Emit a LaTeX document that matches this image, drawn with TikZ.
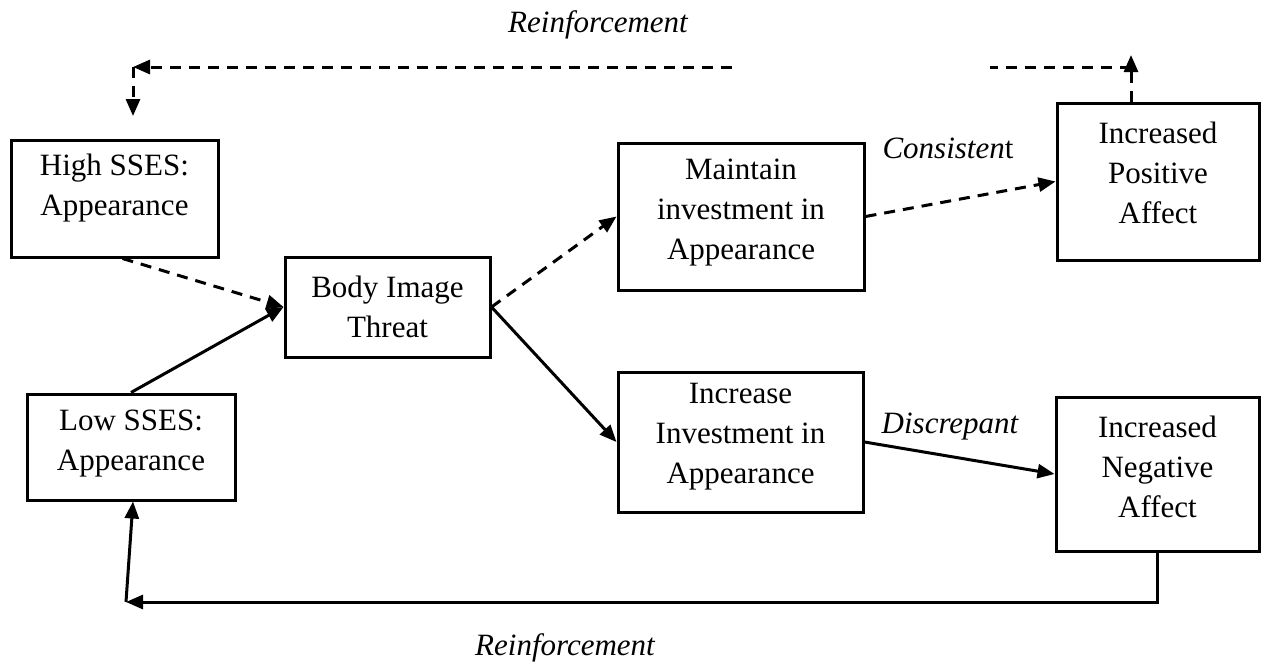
\documentclass[tikz,border=0pt]{standalone}
\usepackage{fontspec}
\setmainfont{Liberation Serif}
\usetikzlibrary{arrows.meta,calc}
\begin{document}
\begin{tikzpicture}[x=1pt,y=-1pt,
  boxnode/.style={draw,line width=3pt,inner sep=0pt},
  boxtext/.style={align=center,font=\fontsize{31}{40}\selectfont},
  lbl/.style={font=\fontsize{31}{38}\selectfont\itshape},
  conn/.style={line width=3pt,-{Triangle[length=17pt,width=14pt]}},
  plain/.style={line width=3pt},
  dsh/.style={dash pattern=on 11pt off 8pt}]
\useasboundingbox (0,0) rectangle (1261,665);
% boxes
\node[boxnode,minimum width=207pt,minimum height=117pt] (High) at (114.5,198.5) {};
\node[boxtext] (HighT) at (114.5,188) {High SSES:\\Appearance};
\node[boxnode,minimum width=208pt,minimum height=106pt] (Low) at (131,447) {};
\node[boxtext] (LowT) at (131,444) {Low SSES:\\Appearance};
\node[boxnode,minimum width=205pt,minimum height=100pt] (Body) at (387.5,307) {};
\node[boxtext] (BodyT) at (387.5,307) {Body Image\\Threat};
\node[boxnode,minimum width=246pt,minimum height=147pt] (Maint) at (741,216.5) {};
\node[boxtext] (MaintT) at (741,213) {Maintain\\investment in\\Appearance};
\node[boxnode,minimum width=245pt,minimum height=140pt] (Incr) at (740.5,442) {};
\node[boxtext] (IncrT) at (740.5,437) {Increase\\Investment in\\Appearance};
\node[boxnode,minimum width=202pt,minimum height=157pt] (Pos) at (1158,181.5) {};
\node[boxtext] (PosT) at (1158,173) {Increased\\Positive\\Affect};
\node[boxnode,minimum width=203pt,minimum height=154pt] (Neg) at (1157.5,474) {};
\node[boxtext] (NegT) at (1157.5,467) {Increased\\Negative\\Affect};
% labels
\node[lbl] (RTop) at (598,25) {Reinforcement};
\node[lbl] (RBot) at (565,648) {Reinforcement};
\node[lbl] (Cons) at (948,148) {Consisten\upshape t};
\node[lbl] (Disc) at (950,427) {Discrepant};
% coordinates
\coordinate (tr) at (1131,67);
\coordinate (gapR) at (990,67);
\coordinate (gapL) at (732,67);
\coordinate (tl) at (133,67);
\coordinate (hd) at (133,116);
\coordinate (ptop) at (1131,55);
\coordinate (bl) at (126,602);
% connectors
\draw[conn,dsh] ($(High.south)+(8,0)$) -- (Body.west);
\draw[conn] (Low.north) -- (Body.west);
\draw[conn,dsh] (Body.east) -- (Maint.west);
\draw[conn] (Body.east) -- (Incr.west);
\draw[conn,dsh] (Maint.east) -- (Pos.west);
\draw[conn] (Incr.east) -- (Neg.west);
\draw[conn] (Neg.south) |- (bl);
\draw[conn] (bl) -- ($(Low.south)+(2,0)$);
\draw[conn,dsh] ($(Pos.north)+(-27,0)$) -- (ptop);
\draw[plain,dsh] (tr) -- (gapR);
\draw[conn,dsh] (gapL) -- (tl);
\draw[conn,dsh] (tl) -- (hd);
\end{tikzpicture}
\end{document}
